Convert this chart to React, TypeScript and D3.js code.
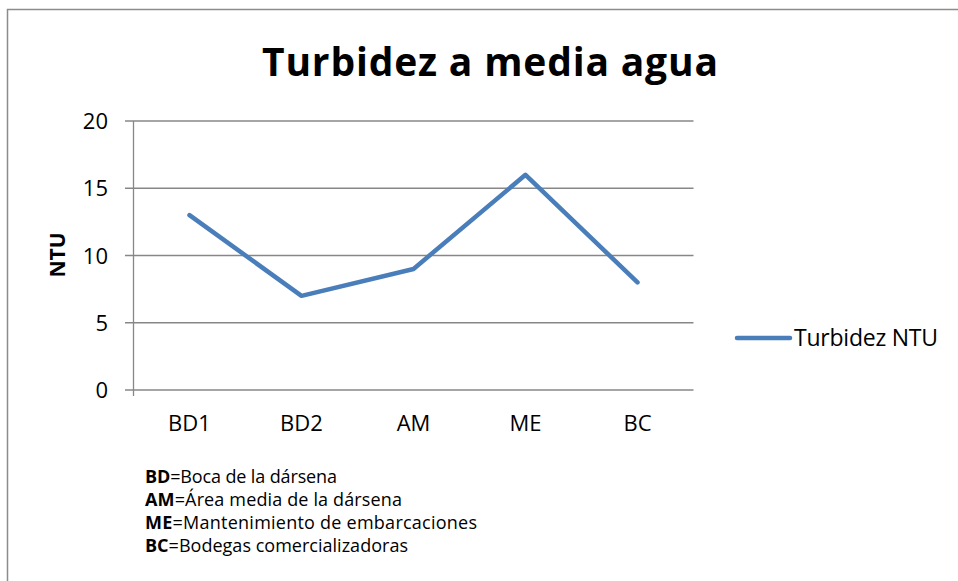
import React from "react";
import * as d3 from "d3";

const categories = ["BD1", "BD2", "AM", "ME", "BC"];
const turbidity = [13, 7, 9, 16, 8];
const yTicks = [0, 5, 10, 15, 20];
const seriesName = "Turbidez NTU";
const title = "Turbidez a media agua";
const yLabel = "NTU";
const notes: [string, string][] = [
  ["BD", "=Boca de la dársena"],
  ["AM", "=Área media de la dársena"],
  ["ME", "=Mantenimiento de embarcaciones"],
  ["BC", "=Bodegas comercializadoras"],
];
const noteWidths = [192, 257, 332, 263];

const W = 958;
const H = 581;
const FONT = "'Open Sans', Lato, sans-serif";

export default function App() {
  const left = 133.5;
  const right = 693.5;
  const top = 121;
  const bottom = 390;
  const x = d3.scaleBand<string>().domain(categories).range([left, right]);
  const y = d3.scaleLinear().domain([0, 20]).range([bottom, top]);
  const line = d3
    .line<number>()
    .x((_, i) => (x(categories[i]) as number) + x.bandwidth() / 2)
    .y((d) => y(d));
  const grid = "#878787";
  return (
    <svg
      width={W}
      height={H}
      style={{ position: "absolute", left: 0, top: 0, background: "#fff" }}
      fontFamily={FONT}
    >
      <path d={`M7.5,${H} V9.5 H${W}`} fill="none" stroke="#8c8c8c" strokeWidth={1.5} />
      <text
        x={490}
        y={76}
        textAnchor="middle"
        fontSize={39}
        fontWeight="bold"
        fill="#000"
        textLength={456}
        lengthAdjust="spacing"
      >
        {title}
      </text>
      {yTicks.map((t) => (
        <g key={t}>
          <line x1={125} x2={right} y1={y(t)} y2={y(t)} stroke={grid} strokeWidth={1.3} />
          <text x={108} y={y(t) + 8} textAnchor="end" fontSize={22} fill="#000">
            {t}
          </text>
        </g>
      ))}
      <line x1={left} x2={left} y1={top} y2={bottom + 6} stroke={grid} strokeWidth={1.3} />
      {categories.map((c) => (
        <text
          key={c}
          x={(x(c) as number) + x.bandwidth() / 2}
          y={431}
          textAnchor="middle"
          fontSize={22}
          fill="#000"
        >
          {c}
        </text>
      ))}
      <text
        transform={`translate(65,255) rotate(-90)`}
        textAnchor="middle"
        fontSize={21}
        fontWeight="bold"
        fill="#000"
      >
        {yLabel}
      </text>
      <path
        d={line(turbidity) || ""}
        fill="none"
        stroke="#4a7ebb"
        strokeWidth={4.5}
        strokeLinejoin="round"
        strokeLinecap="round"
      />
      <line x1={737} x2={790} y1={338} y2={338} stroke="#4a7ebb" strokeWidth={4.5} strokeLinecap="round" />
      <text x={794} y={346} fontSize={23} fill="#000" textLength={144} lengthAdjust="spacing">
        {seriesName}
      </text>
      {notes.map(([k, v], i) => (
        <text
          key={k}
          x={145}
          y={483 + i * 23}
          fontSize={18}
          fill="#000"
          textLength={noteWidths[i]}
          lengthAdjust="spacing"
        >
          <tspan fontWeight="bold">{k}</tspan>
          <tspan>{v}</tspan>
        </text>
      ))}
    </svg>
  );
}
